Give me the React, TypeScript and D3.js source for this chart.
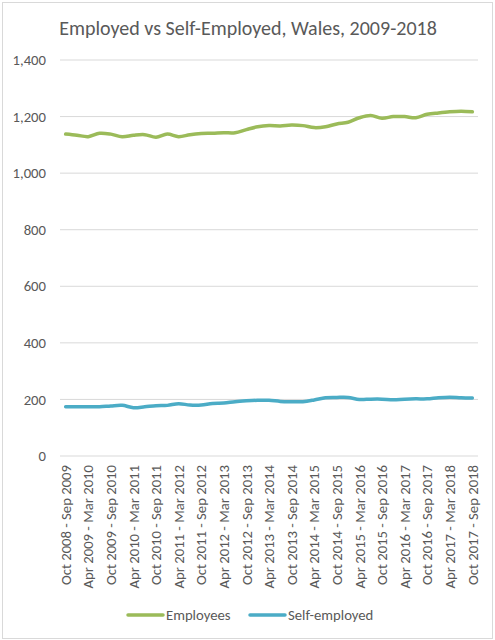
import * as d3 from 'd3'
import { useEffect, useRef } from 'react'

// Rolling 12-month periods, quarterly steps (thousands)
const periods = [
  'Oct 2008 - Sep 2009', 'Jan 2009 - Dec 2009', 'Apr 2009 - Mar 2010', 'Jul 2009 - Jun 2010',
  'Oct 2009 - Sep 2010', 'Jan 2010 - Dec 2010', 'Apr 2010 - Mar 2011', 'Jul 2010 - Jun 2011',
  'Oct 2010 - Sep 2011', 'Jan 2011 - Dec 2011', 'Apr 2011 - Mar 2012', 'Jul 2011 - Jun 2012',
  'Oct 2011 - Sep 2012', 'Jan 2012 - Dec 2012', 'Apr 2012 - Mar 2013', 'Jul 2012 - Jun 2013',
  'Oct 2012 - Sep 2013', 'Jan 2013 - Dec 2013', 'Apr 2013 - Mar 2014', 'Jul 2013 - Jun 2014',
  'Oct 2013 - Sep 2014', 'Jan 2014 - Dec 2014', 'Apr 2014 - Mar 2015', 'Jul 2014 - Jun 2015',
  'Oct 2014 - Sep 2015', 'Jan 2015 - Dec 2015', 'Apr 2015 - Mar 2016', 'Jul 2015 - Jun 2016',
  'Oct 2015 - Sep 2016', 'Jan 2016 - Dec 2016', 'Apr 2016 - Mar 2017', 'Jul 2016 - Jun 2017',
  'Oct 2016 - Sep 2017', 'Jan 2017 - Dec 2017', 'Apr 2017 - Mar 2018', 'Jul 2017 - Jun 2018',
  'Oct 2017 - Sep 2018',
]

const employees = [
  1138, 1134, 1129, 1141, 1138, 1129, 1134, 1136, 1127, 1138, 1129, 1136, 1140, 1141, 1143, 1143,
  1154, 1164, 1168, 1167, 1170, 1168, 1161, 1164, 1174, 1180, 1196, 1204, 1194, 1200, 1200, 1196,
  1208, 1213, 1217, 1219, 1217,
]

const selfEmployed = [
  174, 174, 174, 174, 177, 179, 171, 174, 178, 179, 185, 180, 180, 186, 187, 192,
  195, 197, 197, 193, 192, 192, 198, 206, 207, 207, 200, 201, 201, 199, 201, 202,
  202, 206, 208, 206, 205,
]

const yTicks = [0, 200, 400, 600, 800, 1000, 1200, 1400]

const series = [
  { name: 'Employees', values: employees, color: '#9BBB59' },
  { name: 'Self-employed', values: selfEmployed, color: '#4BACC6' },
]

const W = 495
const H = 640
const FONT = 'Carlito, Calibri, "Open Sans", sans-serif'
const TEXT = '#595959'

export default function App() {
  const svgRef = useRef<SVGSVGElement>(null)

  useEffect(() => {
    if (!svgRef.current) return
    const svg = d3.select(svgRef.current)
    svg.selectAll('*').remove()

    const left = 60
    const right = 478
    const top = 60
    const bottom = 456

    // chart area border
    svg.append('rect')
      .attr('x', 2.5).attr('y', 2.5)
      .attr('width', W - 5).attr('height', H - 4)
      .attr('fill', '#fff').attr('stroke', '#D9D9D9')

    svg.append('text')
      .attr('x', 248).attr('y', 35)
      .attr('text-anchor', 'middle')
      .attr('font-family', FONT).attr('font-size', 20)
      .attr('fill', TEXT)
      .text('Employed vs Self-Employed, Wales, 2009-2018')

    const x = d3.scaleBand<string>().domain(periods).range([left, right]).padding(0)
    const y = d3.scaleLinear().domain([0, 1400]).range([bottom, top])
    const cx = (p: string) => (x(p) ?? 0) + x.bandwidth() / 2

    // gridlines
    svg.append('g')
      .selectAll('line')
      .data(yTicks)
      .join('line')
      .attr('x1', left).attr('x2', right)
      .attr('y1', d => y(d)).attr('y2', d => y(d))
      .attr('stroke', '#D9D9D9').attr('stroke-width', 1)

    // y labels
    svg.append('g')
      .selectAll('text')
      .data(yTicks)
      .join('text')
      .attr('x', 46).attr('y', d => y(d))
      .attr('dy', '0.35em')
      .attr('text-anchor', 'end')
      .attr('font-family', FONT).attr('font-size', 14.7)
      .attr('fill', TEXT)
      .text(d => d3.format(',')(d))

    // x labels, every second period
    svg.append('g')
      .selectAll('text')
      .data(periods.filter((_, i) => i % 2 === 0))
      .join('text')
      .attr('transform', d => `translate(${cx(d)}, ${bottom + 9}) rotate(-90)`)
      .attr('dy', '0.35em')
      .attr('text-anchor', 'end')
      .attr('font-family', FONT).attr('font-size', 14.7)
      .attr('fill', TEXT)
      .text(d => d)

    const line = d3.line<number>()
      .x((_, i) => cx(periods[i]))
      .y(d => y(d))
      .curve(d3.curveCatmullRom.alpha(0.5))

    series.forEach(s => {
      svg.append('path')
        .attr('d', line(s.values) ?? '')
        .attr('fill', 'none')
        .attr('stroke', s.color)
        .attr('stroke-width', 3.5)
        .attr('stroke-linecap', 'round')
        .attr('stroke-linejoin', 'round')
    })

    // legend
    const legendX = [128, 250]
    const lg = svg.append('g')
    series.forEach((s, i) => {
      lg.append('line')
        .attr('x1', legendX[i]).attr('x2', legendX[i] + 35)
        .attr('y1', 615).attr('y2', 615)
        .attr('stroke', s.color).attr('stroke-width', 3.5)
        .attr('stroke-linecap', 'round')
      lg.append('text')
        .attr('x', legendX[i] + 38).attr('y', 615)
        .attr('dy', '0.35em')
        .attr('font-family', FONT).attr('font-size', 14.7)
        .attr('fill', TEXT)
        .text(s.name)
    })
  }, [])

  return (
    <svg
      ref={svgRef}
      width={W}
      height={H}
      style={{ position: 'absolute', left: 0, top: 0, display: 'block' }}
    />
  )
}
